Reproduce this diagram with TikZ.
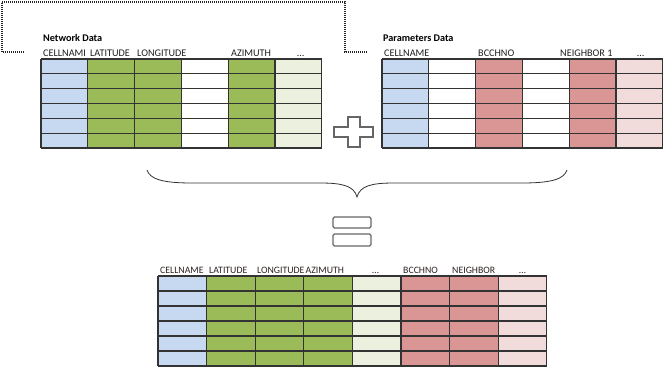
\documentclass[tikz,border=0pt]{standalone}
\usepackage{fontspec}
\setmainfont{Carlito}
\definecolor{cellblue}{HTML}{C6D9F1}
\definecolor{cellgreen}{HTML}{9BBB59}
\definecolor{celllight}{HTML}{EBF1DE}
\definecolor{cellred}{HTML}{D99694}
\definecolor{cellpink}{HTML}{F2DCDB}
\definecolor{gridgray}{HTML}{333333}
\definecolor{signgray}{HTML}{666666}
\definecolor{hdrgray}{HTML}{1E1E1E}
\definecolor{hdrbrown}{HTML}{2E2020}

\begin{document}
\begin{tikzpicture}[x=1pt,y=-1pt,
  hdr/.style={anchor=base west,inner sep=0pt,font=\fontsize{10.2}{12}\selectfont,text=hdrgray},
  ttl/.style={hdr,font=\fontsize{10.2}{12}\selectfont\bfseries,text=black},
  lowhdr/.style={hdr,font=\fontsize{9.8}{11}\selectfont,text=hdrbrown},
  cellline/.style={draw=gridgray,line width=1.1pt},
  sign/.style={draw=signgray,line width=1.4pt,fill=white}]
  \useasboundingbox (0,0) rectangle (664,367);
  \draw[black!85,line width=1.3pt,dash pattern=on 1pt off 1pt] (24,52) -- (2,52) -- (2,2) -- (345,2) -- (345,52) -- (367,52);

  \foreach \c [count=\i from 0] in {cellblue,cellgreen,cellgreen,white,cellgreen,celllight}
    \fill[\c] (41+46.8*\i,59) rectangle ++(46.8,89);
  \foreach \i in {0,...,6} \draw[cellline] (41+46.8*\i,59) -- ++(0,89);
  \foreach \j in {0,...,6} \draw[cellline] (41,59+14.83*\j) -- ++(280.8,0);

  \foreach \c [count=\i from 0] in {cellblue,white,cellred,white,cellred,cellpink}
    \fill[\c] (382+46.8*\i,59) rectangle ++(46.8,89);
  \foreach \i in {0,...,6} \draw[cellline] (382+46.8*\i,59) -- ++(0,89);
  \foreach \j in {0,...,6} \draw[cellline] (382,59+14.83*\j) -- ++(280.8,0);

  \foreach \c [count=\i from 0] in {cellblue,cellgreen,cellgreen,cellgreen,celllight,cellred,cellred,cellpink}
    \fill[\c] (158+48.6*\i,276) rectangle ++(48.6,90);
  \foreach \i in {0,...,8} \draw[cellline] (158+48.6*\i,276) -- ++(0,90);
  \foreach \j in {0,...,6} \draw[cellline] (158,276+15*\j) -- ++(388.8,0);

  \node[ttl] (nwtitle) at (43,41.5) {Network Data};
  \node[ttl] (prtitle) at (383,41.5) {Parameters Data};
  \foreach \t/\px [count=\i] in {CELLNAMI/43,LATITUDE/90,LONGITUDE/137,AZIMUTH/231,\ldots/297}
    \node[hdr] (nwh\i) at (\px,56) {\t};
  \foreach \t/\px [count=\i] in {CELLNAME/384,BCCHNO/478,NEIGHBOR 1/560,\ldots/637}
    \node[hdr] (prh\i) at (\px,56) {\t};
  \foreach \t/\px [count=\i] in {CELLNAME/160,LATITUDE/209,LONGITUDE/257,AZIMUTH/305.5,\ldots/372,BCCHNO/403,NEIGHBOR/452,\ldots/519}
    \node[lowhdr] (rsh\i) at (\px,273) {\t};

  \draw[sign] (348,117) -- (360,117) -- (360,127) -- (373,127) -- (373,137) -- (360,137)
    -- (360,147) -- (348,147) -- (348,137) -- (334,137) -- (334,127) -- (348,127) -- cycle;
  \draw[black!80,line width=0.8pt] (147,170) .. controls (150,179) and (162,183) .. (192,183) -- (320,183)
    .. controls (343,183) and (354,186) .. (357,197) .. controls (360,186) and (371,183) .. (394,183)
    -- (522,183) .. controls (552,183) and (564,179) .. (567,170);
  \draw[sign,rounded corners=1.5pt] (333,217) rectangle (371,228);
  \draw[sign,rounded corners=1.5pt] (333,234) rectangle (371,246);
\end{tikzpicture}
\end{document}
